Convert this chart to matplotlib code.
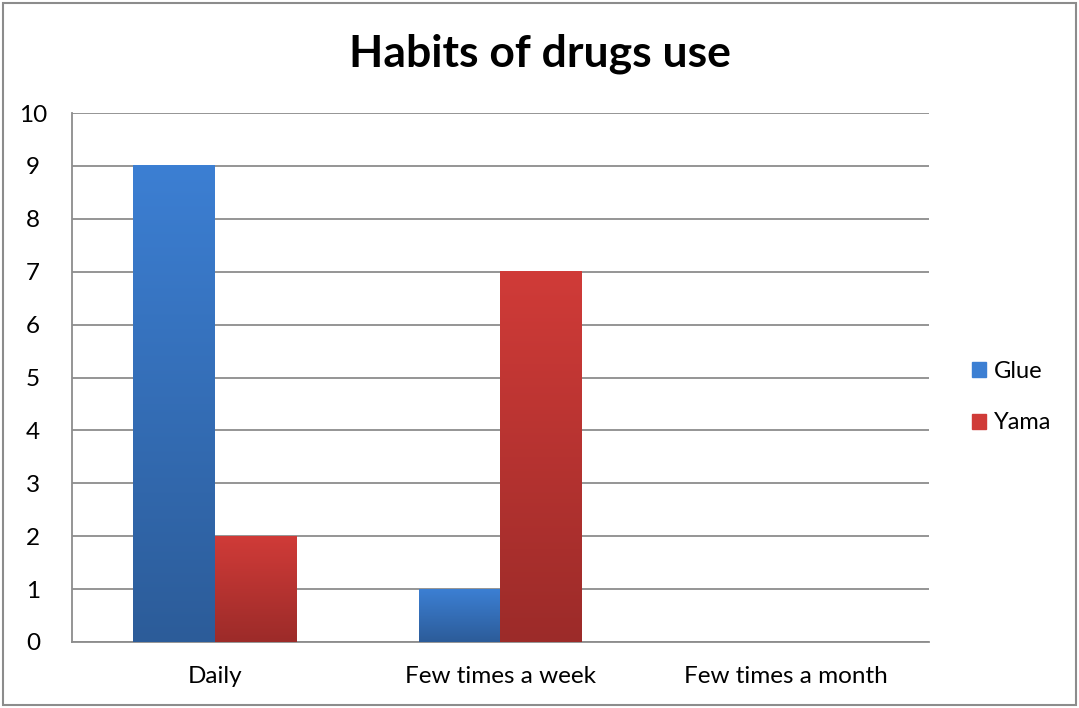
import numpy as np
import matplotlib.pyplot as plt
from matplotlib.colors import LinearSegmentedColormap
from matplotlib.patches import Rectangle

# --- chart data ---
categories = ['Daily', 'Few times a week', 'Few times a month']
glue = [9, 1, 0]
yama = [2, 7, 0]
series_names = ['Glue', 'Yama']

# gradient (top -> bottom) per series, Excel style
blue_top, blue_bottom = '#3C7FD3', '#2C5C99'
red_top, red_bottom = '#D03B38', '#9C2B29'

plt.rcParams['font.family'] = ['Lato', 'DejaVu Sans']

fig = plt.figure(figsize=(10.79, 7.08), dpi=100)
ax = fig.add_axes([72 / 1079, 1 - 642 / 708, (929 - 72) / 1079, (642 - 113) / 708])

x = np.arange(len(categories))
width = 0.287


def gradient_bars(xpos, heights, top, bottom):
    cmap = LinearSegmentedColormap.from_list('g', [bottom, top])
    grad = np.linspace(0, 1, 256).reshape(-1, 1)
    for xi, h in zip(xpos, heights):
        if h <= 0:
            continue
        ax.imshow(grad, cmap=cmap, origin='lower', aspect='auto',
                  extent=(xi - width / 2, xi + width / 2, 0, h), zorder=3)


gradient_bars(x - width / 2, glue, blue_top, blue_bottom)
gradient_bars(x + width / 2, yama, red_top, red_bottom)

ax.set_xlim(-0.5, len(categories) - 0.5)
ax.set_ylim(0, 10)
ax.set_yticks(range(0, 11))
ax.set_xticks(x)
ax.set_xticklabels(categories)
ax.tick_params(axis='both', length=0, labelsize=17.5, colors='black')
ax.tick_params(axis='y', pad=28)
ax.tick_params(axis='x', pad=17)
for lbl in ax.get_yticklabels():
    lbl.set_horizontalalignment('center')

ax.grid(axis='y', color='#8C8C8C', linewidth=1.3, zorder=1)
ax.set_axisbelow(True)
for s in ['top', 'right']:
    ax.spines[s].set_visible(False)
ax.spines['left'].set_color('#8C8C8C')
ax.spines['bottom'].set_color('#8C8C8C')
ax.spines['left'].set_linewidth(1.3)
ax.spines['bottom'].set_linewidth(1.3)

fig.text(0.5, 1 - 54 / 708, 'Habits of drugs use', ha='center', va='center',
         fontsize=32, fontweight='bold')

# legend
handles = [Rectangle((0, 0), 1, 1, color=blue_top), Rectangle((0, 0), 1, 1, color=red_top)]
fig.legend(handles, series_names, loc='center left', bbox_to_anchor=(951 / 1079, 1 - 397 / 708),
           frameon=False, fontsize=17, handlelength=0.6, handleheight=0.6,
           handletextpad=0.3, labelspacing=1.3)

# outer chart border
fig.patches.append(Rectangle((3 / 1079, 3 / 708), 1 - 6 / 1079, 1 - 6 / 708,
                             transform=fig.transFigure, fill=False,
                             edgecolor='#8C8C8C', linewidth=1.5))

fig.savefig('out.png', dpi=100)
